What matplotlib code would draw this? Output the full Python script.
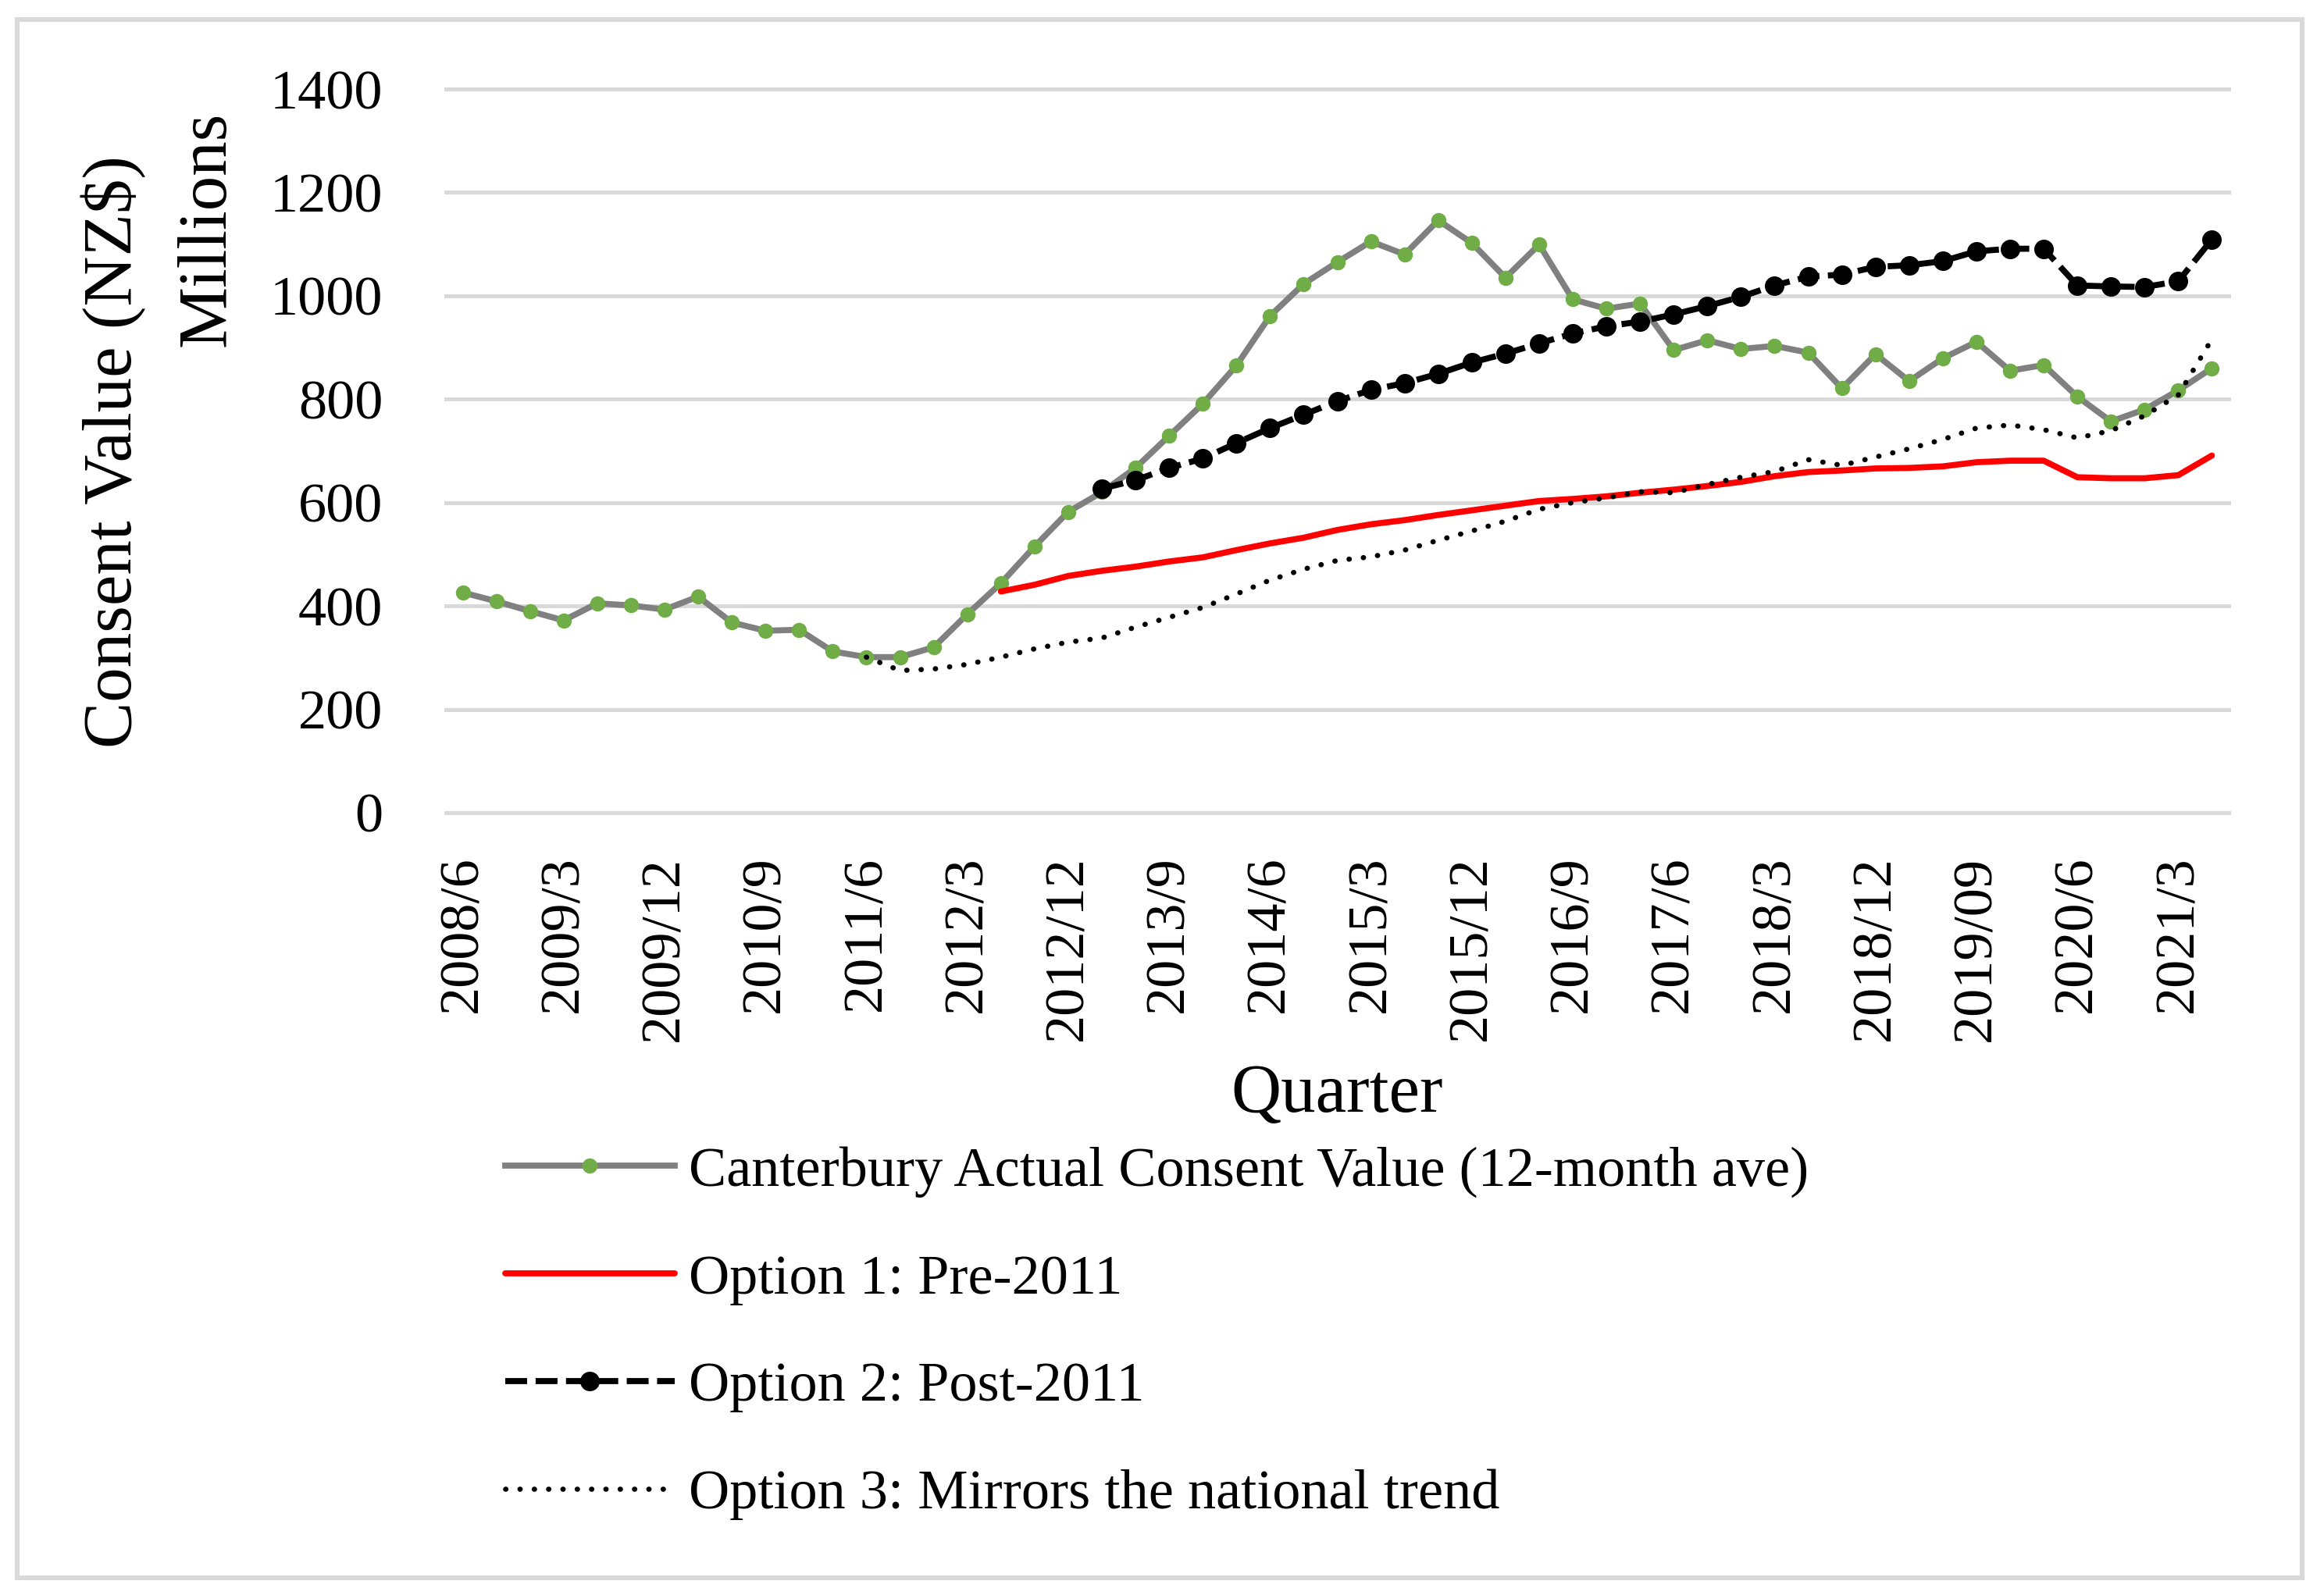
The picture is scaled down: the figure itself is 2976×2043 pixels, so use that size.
import matplotlib
matplotlib.use("Agg")
import matplotlib.pyplot as plt
from matplotlib.patches import Rectangle
import numpy as np

# quarters on the category axis (every 3rd one is labelled)
quarters = ["2008/6", "2008/9", "2008/12", "2009/3", "2009/6", "2009/9", "2009/12",
            "2010/3", "2010/6", "2010/9", "2010/12", "2011/3", "2011/6", "2011/9",
            "2011/12", "2012/3", "2012/6", "2012/9", "2012/12", "2013/3", "2013/6",
            "2013/9", "2013/12", "2014/3", "2014/6", "2014/9", "2014/12", "2015/3",
            "2015/6", "2015/9", "2015/12", "2016/3", "2016/6", "2016/9", "2016/12",
            "2017/3", "2017/6", "2017/9", "2017/12", "2018/3", "2018/6", "2018/9",
            "2018/12", "2019/3", "2019/6", "2019/09", "2019/12", "2020/3", "2020/6",
            "2020/9", "2020/12", "2021/3", "2021/6"]

actual = [426, 409, 390, 372, 405, 401, 393, 418, 368, 352,
          354, 312, 301, 301, 320, 384, 444, 515, 582, 620,
          667, 729, 791, 865, 961, 1023, 1065, 1105, 1080, 1146,
          1102, 1035, 1099, 993, 975, 985, 895, 914, 897, 903,
          890, 821, 887, 835, 879, 911, 855, 866, 805, 757,
          780, 817, 860]

# projections start part-way through the series (they end at the last quarter)
option1 = [428, 441, 458, 468, 476, 486, 494, 508, 521, 532,
           547, 558, 566, 576, 585, 594, 603, 607, 612, 619,
           625, 632, 640, 651, 659, 662, 666, 667, 670, 678,
           681, 681, 649, 647, 647, 653, 691]

option2 = [627, 643, 667, 685, 715, 744, 770, 796, 818, 831,
           849, 871, 888, 908, 927, 941, 950, 964, 980, 998,
           1020, 1037, 1041, 1056, 1059, 1067, 1086, 1091, 1091, 1020,
           1018, 1017, 1028, 1109]

option3 = [301, 275, 278, 287, 301, 317, 330, 338, 359, 378,
           397, 423, 450, 471, 488, 495, 508, 527, 545, 564,
           587, 600, 609, 621, 619, 635, 649, 660, 683, 672,
           688, 704, 722, 744, 750, 741, 725, 739, 768, 808,
           916]

names = ["Canterbury Actual Consent Value (12-month ave)",
         "Option 1: Pre-2011",
         "Option 2: Post-2011",
         "Option 3: Mirrors the national trend"]

plt.rcParams['font.family'] = ['Liberation Serif', 'DejaVu Serif']

W, H = 2976, 2043
fig = plt.figure(figsize=(W / 200, H / 200), dpi=200)
ax = fig.add_axes([571 / W, 1 - 1041 / H, (2854 - 571) / W, (1041 - 114) / H])

n = len(quarters)
x = np.arange(n)


def xs(series):
    return np.arange(n - len(series), n)


ax.plot(x, actual, color='#808080', lw=2.8, marker='o', ms=6,
        mfc='#70ad47', mec='#70ad47', label=names[0], zorder=3)
ax.plot(xs(option1), option1, color='#ff0000', lw=2.8, label=names[1],
        solid_capstyle='round', zorder=4)
ax.plot(xs(option2), option2, color='black', lw=2.8, ls=(0, (3.6, 1.4)),
        marker='o', ms=8, label=names[2], zorder=5)
ax.plot(xs(option3), option3, color='black', lw=2.4, ls=(0, (0.05, 2.7)),
        dash_capstyle='round', label=names[3], zorder=6)

ax.set_xlim(-0.5, n - 0.5)
ax.set_ylim(0, 1400)
ax.set_yticks(np.arange(0, 1401, 200))
ax.set_xticks(x[::3])
ax.set_xticklabels(quarters[::3], rotation=90, fontsize=26)
ax.tick_params(axis='y', labelsize=26, length=0, pad=29)
ax.tick_params(axis='x', length=0, pad=20)

ax.yaxis.grid(True, color='#d9d9d9', lw=1.8)
for gl in ax.get_ygridlines():
    gl.set_clip_on(False)
ax.set_axisbelow(True)
for s in ax.spines.values():
    s.set_visible(False)

fig.text(145 / W, 1 - 579 / H, "Consent Value (NZ$)", rotation=90,
         fontsize=32, ha='center', va='center')
fig.text(266 / W, 1 - 293 / H, "Millions", rotation=90,
         fontsize=32, ha='center', va='center')
fig.text(1712 / W, 1 - 1403 / H, "Quarter", fontsize=32,
         ha='center', va='center')

fig.legend(loc='upper left', bbox_to_anchor=(647 / W, 1 - 1468 / H),
           frameon=False, fontsize=26, handlelength=3.0, handletextpad=0.26,
           labelspacing=1.0, borderpad=0, borderaxespad=0, numpoints=1)

fig.patches.append(Rectangle((22 / W, 1 - 2021 / H), (2948 - 22) / W,
                             (2021 - 25) / H, transform=fig.transFigure,
                             fill=False, edgecolor='#d9d9d9', lw=2.2))

fig.savefig("out.png", dpi=200, facecolor='white')
